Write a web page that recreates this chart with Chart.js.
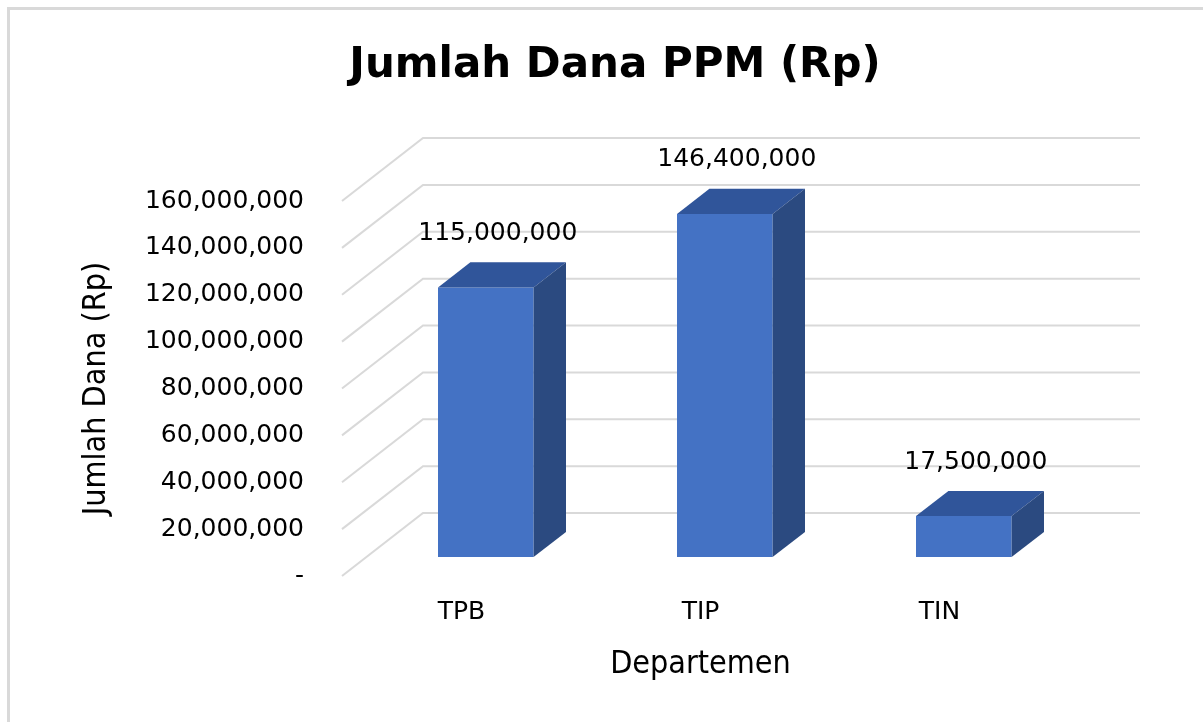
<!DOCTYPE html>
<html>
<head>
<meta charset="utf-8">
<script src="https://cdn.jsdelivr.net/npm/chart.js@4.4.1/dist/chart.umd.min.js"></script>
<style>
  html, body { margin: 0; padding: 0; background: #fff; }
</style>
</head>
<body>
<canvas id="myChart" width="1203" height="722"></canvas>
<script>
const departments = ['TPB', 'TIP', 'TIN'];
const funds = [115000000, 146400000, 17500000];
const tickValues = [0, 20000000, 40000000, 60000000, 80000000, 100000000, 120000000, 140000000, 160000000];

// fake 3d look (excel style): depth vector in px, bars sit in the middle of the depth
const DEPTH_X = 81, DEPTH_Y = -63;
const FRONT_GAP = 0.3, BAR_DEPTH = 0.4;
const TEXT_FONT = 'DejaVu Sans';
const AXIS_TITLE_FONT = "'DejaVu Sans Condensed', 'DejaVu Sans'";

const fmt = v => v.toLocaleString('en-US');

function poly(c, pts, color) {
    c.fillStyle = color;
    c.beginPath();
    c.moveTo(pts[0][0], pts[0][1]);
    for (let p of pts.slice(1)) c.lineTo(p[0], p[1]);
    c.closePath();
    c.fill();
}

const fake3d = {
    id: 'fake3d',
    beforeDraw(chart) {
        const c = chart.ctx;
        c.save();
        c.fillStyle = '#fff';
        c.fillRect(0, 0, chart.width, chart.height);
        // outer frame, only top + left are visible in the picture
        c.fillStyle = '#d9d9d9';
        c.fillRect(7, 7, chart.width - 7, 3);
        c.fillRect(7, 7, 3, chart.height - 7);
        c.restore();
    },
    beforeDatasetsDraw(chart) {
        const { ctx: c, chartArea: a, scales: { y } } = chart;
        c.save();
        c.strokeStyle = '#d9d9d9';
        c.lineWidth = 2;
        for (let t of y.ticks) {
            const py = y.getPixelForValue(t.value);
            c.beginPath();
            c.moveTo(a.left, py);
            c.lineTo(a.left + DEPTH_X, py + DEPTH_Y);
            c.lineTo(a.right + DEPTH_X, py + DEPTH_Y);
            c.stroke();
        }
        c.restore();
    },
    afterDatasetsDraw(chart) {
        const c = chart.ctx;
        const meta = chart.getDatasetMeta(0);
        const ox = DEPTH_X * FRONT_GAP, oy = DEPTH_Y * FRONT_GAP;
        const bx = DEPTH_X * BAR_DEPTH, by = DEPTH_Y * BAR_DEPTH;
        c.save();
        meta.data.forEach((el, i) => {
            const bar = el.getProps(['x', 'y', 'base', 'width'], true);
            const x0 = bar.x - bar.width / 2 + ox;
            const x1 = bar.x + bar.width / 2 + ox;
            const top = bar.y + oy;
            const base = bar.base + oy;
            poly(c, [[x0, top], [x1, top], [x1, base], [x0, base]], '#4472c4');
            poly(c, [[x0, top], [x1, top], [x1 + bx, top + by], [x0 + bx, top + by]], '#30559a');
            poly(c, [[x1, top], [x1 + bx, top + by], [x1 + bx, base + by], [x1, base]], '#2b4a80');

            c.fillStyle = '#000';
            c.font = '25px ' + TEXT_FONT;
            c.textAlign = 'center';
            c.textBaseline = 'middle';
            c.fillText(fmt(funds[i]), bar.x + ox + 12, bar.y + oy - 54);
        });
        c.restore();
    }
};

const ctx = document.getElementById('myChart').getContext('2d');

const myChart = new Chart(ctx, {
    type: 'bar',
    data: {
        labels: departments,
        datasets: [{
            label: 'Jumlah Dana PPM (Rp)',
            data: funds,
            backgroundColor: 'rgba(0,0,0,0)',
            borderWidth: 0,
            barPercentage: 0.4,
            categoryPercentage: 1
        }]
    },
    options: {
        responsive: false,
        animation: false,
        devicePixelRatio: 1,
        layout: { padding: { left: 27, right: 0, top: 0, bottom: 0 } },
        plugins: {
            legend: { display: false },
            tooltip: { enabled: false },
            title: {
                display: true,
                text: 'Jumlah Dana PPM (Rp)',
                color: '#000',
                font: { family: TEXT_FONT, size: 42, weight: 'bold' },
                padding: { top: 41, bottom: 109.6 }
            }
        },
        scales: {
            x: {
                grid: { display: false, drawTicks: false },
                border: { display: false },
                ticks: { color: '#000', padding: 21, font: { family: TEXT_FONT, size: 25 } },
                title: {
                    display: true,
                    text: 'Departemen',
                    color: '#000',
                    font: { family: AXIS_TITLE_FONT, size: 32 },
                    padding: { top: 0, bottom: 38 }
                },
                afterFit: s => { s.height = 146; }
            },
            y: {
                min: 0,
                max: tickValues[tickValues.length - 1],
                grid: { display: false, drawTicks: false },
                border: { display: false },
                afterBuildTicks: s => { s.ticks = tickValues.map(v => ({ value: v })); },
                ticks: {
                    color: '#000',
                    padding: 38,
                    font: { family: TEXT_FONT, size: 25 },
                    callback: v => v === 0 ? '-' : fmt(v)
                },
                title: {
                    display: true,
                    text: 'Jumlah Dana (Rp)',
                    color: '#000',
                    font: { family: AXIS_TITLE_FONT, size: 32 },
                    padding: { top: 50, bottom: 0 }
                },
                afterFit: s => { s.width = 315; }
            },
            // empty axis, only keeps room on the right for the back wall
            yRight: {
                type: 'linear',
                position: 'right',
                display: true,
                grid: { display: false, drawTicks: false },
                border: { display: false },
                ticks: { display: false },
                afterFit: s => { s.width = 144; }
            }
        }
    },
    plugins: [fake3d]
});
</script>
</body>
</html>
